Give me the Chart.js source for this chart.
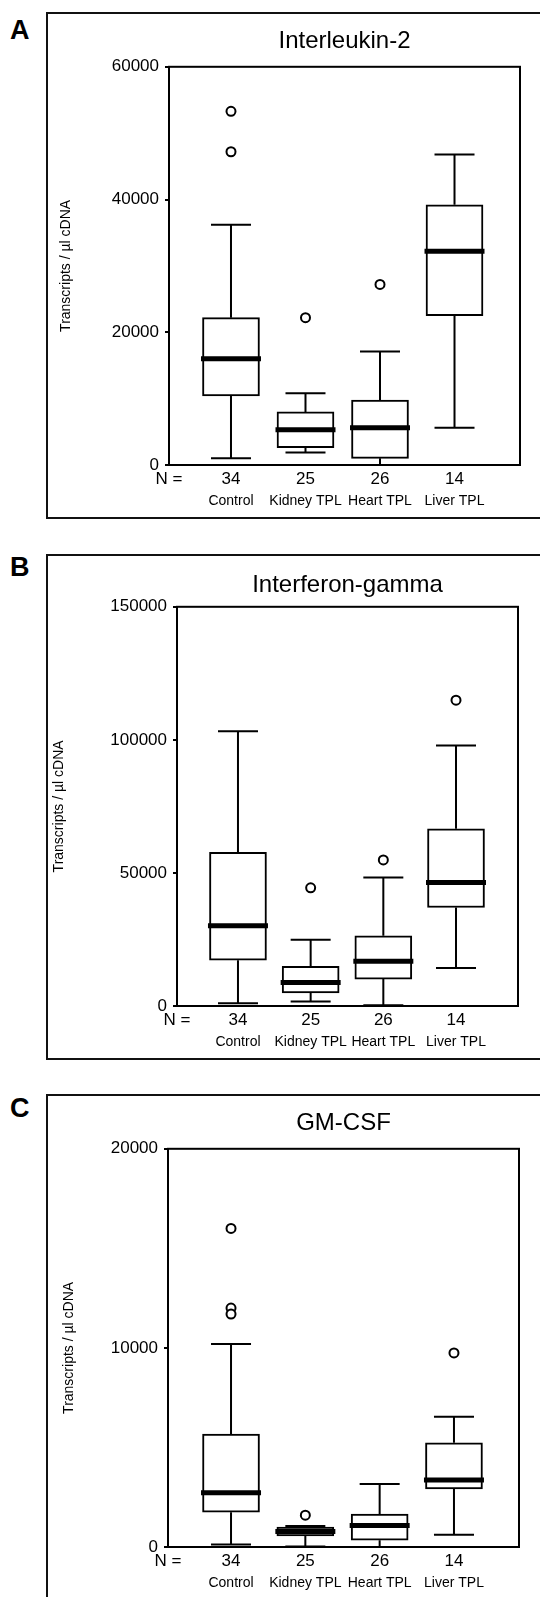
<!DOCTYPE html>
<html>
<head>
<meta charset="utf-8">
<script src="https://cdn.jsdelivr.net/npm/chart.js@4.4.1/dist/chart.umd.min.js"></script>
<style>
  body { margin: 0; background: #fff; width: 540px; height: 1597px; overflow: hidden; position: relative; }
  .frame { position: absolute; left: 46px; width: 520px; border: 2px solid #111; box-sizing: border-box; }
  .letter { position: absolute; left: 10px; font: bold 27px/27px "Liberation Sans", Arial, sans-serif; color: #000; }
  canvas { position: absolute; left: 48px; }
</style>
</head>
<body>
<div class="letter" style="top:17px">A</div>
<div class="frame" style="top:12px;height:507px"></div>
<canvas id="panelA" style="top:14px" width="492" height="502"></canvas>

<div class="letter" style="top:554px">B</div>
<div class="frame" style="top:554px;height:506px"></div>
<canvas id="panelB" style="top:556px" width="492" height="501"></canvas>

<div class="letter" style="top:1095px">C</div>
<div class="frame" style="top:1094px;height:600px"></div>
<canvas id="panelC" style="top:1096px" width="492" height="501"></canvas>

<script>
// groups on the x axis
const groups = ["Control", "Kidney TPL", "Heart TPL", "Liver TPL"];
const nCounts = ["34", "25", "26", "14"];

// Interleukin-2
const il2Low = [1000, 1900, 0, 5600];
const il2Q1 = [10400, 2600, 1000, 22500];
const il2Median = [16000, 5300, 5600, 32200];
const il2Q3 = [22200, 8000, 9800, 39200];
const il2High = [36200, 10800, 17100, 46800];
const il2Outliers = [[53300, 47200], [22200], [27200], []];

// Interferon-gamma
const ifnLow = [1000, 1700, 300, 14300];
const ifnQ1 = [17200, 4900, 10100, 37000];
const ifnMedian = [30200, 8800, 16800, 46400];
const ifnQ3 = [57700, 14900, 26400, 66600];
const ifnHigh = [103200, 24900, 48300, 97900];
const ifnOutliers = [[], [44400], [54900], [114900]];

// GM-CSF
const gmLow = [130, 30, 0, 620];
const gmQ1 = [1750, 560, 340, 2920];
const gmMedian = [2730, 780, 1080, 3370];
const gmQ3 = [5670, 1000, 1650, 5230];
const gmHigh = [10200, 1050, 3170, 6540];
const gmOutliers = [[16000, 12000, 11700], [1600], [], [9750]];

Chart.defaults.font.family = '"Liberation Sans", Arial, sans-serif';
Chart.defaults.color = "#000";

// whiskers, caps, medians and the plot frame, drawn through the chart scales
function makeWhiskers(low, median, q1, q3, high) {
  return {
    id: "whiskers",
    afterDatasetsDraw(chart) {
      let ctx = chart.ctx;
      let area = chart.chartArea;
      let xs = chart.scales.x;
      let ys = chart.scales.y;
      ctx.save();
      ctx.strokeStyle = "#000";
      ctx.lineCap = "butt";
      low.forEach(function (lo, i) {
        let px = xs.getPixelForValue(i + 1);
        let yLo = ys.getPixelForValue(lo);
        let yQ1 = ys.getPixelForValue(q1[i]);
        let yQ3 = ys.getPixelForValue(q3[i]);
        let yHi = ys.getPixelForValue(high[i]);
        ctx.lineWidth = 2;
        ctx.beginPath();
        ctx.moveTo(px, yQ1);
        ctx.lineTo(px, yLo);
        ctx.moveTo(px - 20, yLo);
        ctx.lineTo(px + 20, yLo);
        ctx.moveTo(px, yQ3);
        ctx.lineTo(px, yHi);
        ctx.moveTo(px - 20, yHi);
        ctx.lineTo(px + 20, yHi);
        ctx.stroke();
        // thick median bar
        let yMed = ys.getPixelForValue(median[i]);
        ctx.lineWidth = 5;
        ctx.beginPath();
        ctx.moveTo(px - 30, yMed);
        ctx.lineTo(px + 30, yMed);
        ctx.stroke();
      });
      ctx.lineWidth = 2;
      ctx.strokeRect(area.left, area.top, area.right - area.left, area.bottom - area.top);
      ctx.restore();
    },
  };
}

function boxPanel(canvasId, p) {
  let boxes = p.q1.map(function (v, i) {
    return { x: i + 1, y: [v, p.q3[i]] };
  });
  let points = [];
  p.outliers.forEach(function (list, i) {
    list.forEach(function (v) {
      points.push({ x: i + 1, y: v });
    });
  });

  return new Chart(document.getElementById(canvasId).getContext("2d"), {
    type: "bar",
    data: {
      datasets: [
        {
          type: "bar",
          data: boxes,
          backgroundColor: "#fff",
          borderColor: "#000",
          borderWidth: 2,
          borderSkipped: false,
          barThickness: 57,
        },
        {
          type: "scatter",
          data: points,
          pointRadius: 4.5,
          pointBorderWidth: 2,
          pointBackgroundColor: "#fff",
          pointBorderColor: "#000",
        },
      ],
    },
    options: {
      responsive: false,
      animation: false,
      layout: { padding: { left: 0, top: 0, right: p.padRight, bottom: p.padBottom } },
      plugins: {
        legend: { display: false },
        tooltip: { enabled: false },
        title: {
          display: true,
          fullSize: false,
          text: p.title,
          font: { size: 24, weight: "normal" },
          color: "#000",
          padding: { top: p.titleTop, bottom: p.titleBottom },
        },
      },
      scales: {
        y: {
          min: 0,
          max: p.yMax,
          ticks: {
            stepSize: p.yStep,
            font: { size: 17 },
            color: "#000",
            padding: 6,
            callback: function (v) {
              return String(v);
            },
          },
          grid: { drawOnChartArea: false, tickLength: 4, color: "#000", lineWidth: 2 },
          border: { display: false },
          title: {
            display: true,
            text: "Transcripts / µl cDNA",
            font: { size: 14 },
            color: "#000",
            padding: { top: p.yTitlePad, bottom: 0 },
          },
          afterFit: function (s) {
            s.width = p.yWidth;
          },
        },
        x: {
          type: "linear",
          position: "bottom",
          offset: false,
          weight: 0,
          min: p.xMin,
          max: p.xMax,
          grid: { display: false, drawTicks: false },
          border: { display: false },
          afterBuildTicks: function (s) {
            s.ticks = [s.min, 1, 2, 3, 4].map(function (v) {
              return { value: v };
            });
          },
          ticks: {
            autoSkip: false,
            maxRotation: 0,
            font: { size: 17 },
            color: "#000",
            padding: 4,
            callback: function (v, i) {
              return i === 0 ? "N =" : nCounts[i - 1];
            },
          },
          afterFit: function (s) {
            s.height = 24;
          },
        },
        x2: {
          type: "linear",
          position: "bottom",
          offset: false,
          weight: 1,
          min: p.xMin,
          max: p.xMax,
          grid: { display: false, drawTicks: false },
          border: { display: false },
          afterBuildTicks: function (s) {
            s.ticks = [1, 2, 3, 4].map(function (v) {
              return { value: v };
            });
          },
          ticks: {
            autoSkip: false,
            maxRotation: 0,
            font: { size: 14 },
            color: "#000",
            padding: 4,
            callback: function (v, i) {
              return groups[i];
            },
          },
          afterFit: function (s) {
            s.height = 20;
          },
        },
      },
    },
    plugins: [makeWhiskers(p.low, p.median, p.q1, p.q3, p.high)],
  });
}

boxPanel("panelA", {
  title: "Interleukin-2",
  yMax: 60000, yStep: 20000,
  low: il2Low, q1: il2Q1, median: il2Median, q3: il2Q3, high: il2High, outliers: il2Outliers,
  xMin: 0.168, xMax: 4.879,
  yWidth: 121, padRight: 20, padBottom: 7,
  titleTop: 13, titleBottom: 11, yTitlePad: 10,
});

boxPanel("panelB", {
  title: "Interferon-gamma",
  yMax: 150000, yStep: 50000,
  low: ifnLow, q1: ifnQ1, median: ifnMedian, q3: ifnQ3, high: ifnHigh, outliers: ifnOutliers,
  xMin: 0.161, xMax: 4.853,
  yWidth: 129, padRight: 22, padBottom: 7,
  titleTop: 15, titleBottom: 7, yTitlePad: 3,
});

boxPanel("panelC", {
  title: "GM-CSF",
  yMax: 20000, yStep: 10000,
  low: gmLow, q1: gmQ1, median: gmMedian, q3: gmQ3, high: gmHigh, outliers: gmOutliers,
  xMin: 0.152, xMax: 4.875,
  yWidth: 120, padRight: 21, padBottom: 6,
  titleTop: 13, titleBottom: 11, yTitlePad: 13,
});
</script>
</body>
</html>
